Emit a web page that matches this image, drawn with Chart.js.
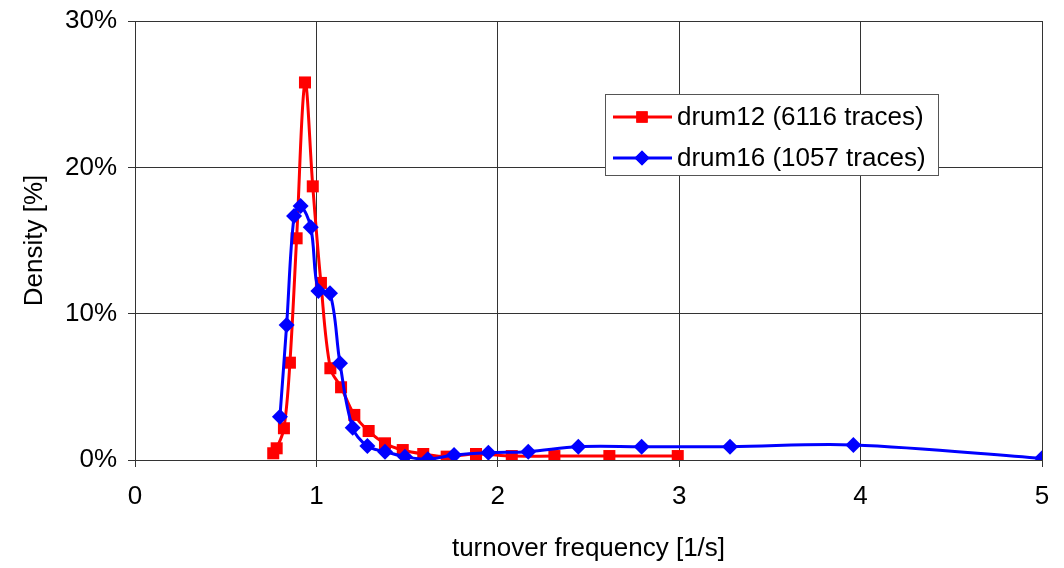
<!DOCTYPE html>
<html lang="en">
<head>
  <meta charset="UTF-8">
  <title>Turnover frequency density</title>
  <script src="https://cdn.jsdelivr.net/npm/chart.js"></script>
  <style>
    html, body { margin: 0; padding: 0; background: #fff; }
    #wrap { width: 1064px; height: 568px; }
  </style>
</head>
<body>
  <div id="wrap"><canvas id="densChart" width="1064" height="568"></canvas></div>

  <script>
    // drum12 (red squares)
    const drum12X = [0.762, 0.781, 0.821, 0.854, 0.891, 0.937, 0.980, 1.025, 1.077, 1.136, 1.209, 1.288, 1.378, 1.476, 1.589, 1.718, 1.880, 2.077, 2.312, 2.615, 2.992];
    const drum12Y = [0.46, 0.80, 2.17, 6.65, 15.15, 25.8, 18.7, 12.1, 6.27, 4.97, 3.08, 1.98, 1.14, 0.68, 0.41, 0.23, 0.41, 0.27, 0.27, 0.27, 0.27];

    // drum16 (blue diamonds)
    const drum16X = [0.799, 0.836, 0.877, 0.913, 0.969, 1.011, 1.075, 1.130, 1.200, 1.281, 1.378, 1.488, 1.614, 1.759, 1.948, 2.168, 2.444, 2.793, 3.280, 3.960, 5.00];
    const drum16Y = [2.96, 9.23, 16.68, 17.36, 15.9, 11.55, 11.39, 6.61, 2.21, 0.96, 0.57, 0.23, 0.05, 0.34, 0.50, 0.57, 0.91, 0.91, 0.91, 1.03, 0.12];

    const seriesLabels = ['drum12 (6116 traces)', 'drum16 (1057 traces)'];
    const xTicks = [0, 1, 2, 3, 4, 5];
    const yTicks = [0, 10, 20, 30];

    const FONT = "'Liberation Sans', Arial, sans-serif";
    const toPts = (xs, ys) => xs.map((x, i) => ({ x, y: ys[i] }));

    // legend box drawn inside the plot, like the spreadsheet original
    const boxLegend = {
      id: 'boxLegend',
      afterDraw(chart) {
        const ctx = chart.ctx;
        const x0 = 605, y0 = 94, w = 333, h = 81;
        ctx.save();
        ctx.fillStyle = '#fff';
        ctx.fillRect(x0, y0, w, h);
        ctx.strokeStyle = '#555';
        ctx.lineWidth = 1;
        ctx.strokeRect(x0 + 0.5, y0 + 0.5, w, h);
        ctx.font = '26px ' + FONT;
        ctx.textBaseline = 'middle';
        chart.data.datasets.forEach((ds, i) => {
          const cy = y0 + 23 + i * 41;
          ctx.strokeStyle = ds.borderColor;
          ctx.lineWidth = 3;
          ctx.beginPath();
          ctx.moveTo(x0 + 8, cy);
          ctx.lineTo(x0 + 67, cy);
          ctx.stroke();
          ctx.fillStyle = ds.backgroundColor;
          ctx.beginPath();
          Chart.helpers.drawPoint(ctx, {
            pointStyle: ds.pointStyle, radius: ds.pointRadius - 0.5, borderWidth: 0
          }, x0 + 37, cy);
          ctx.fill();
          ctx.fillStyle = '#000';
          ctx.fillText(ds.label, x0 + 72, cy + 1);
        });
        ctx.restore();
      }
    };

    new Chart(document.getElementById('densChart').getContext('2d'), {
      type: 'line',
      data: {
        datasets: [
          {
            label: seriesLabels[0], data: toPts(drum12X, drum12Y),
            borderColor: '#ff0000', backgroundColor: '#ff0000',
            borderWidth: 3, tension: 0.35,
            pointStyle: 'rect', pointRadius: 8.5, pointBorderWidth: 0,
            order: 1
          },
          {
            label: seriesLabels[1], data: toPts(drum16X, drum16Y),
            borderColor: '#0000ff', backgroundColor: '#0000ff',
            borderWidth: 3, tension: 0.35,
            pointStyle: 'rectRot', pointRadius: 8, pointBorderWidth: 0,
            order: 0
          }
        ]
      },
      options: {
        responsive: false,
        animation: false,
        layout: { padding: { top: 21, right: 22, left: 0, bottom: 0 } },
        plugins: {
          legend: { display: false },
          tooltip: { enabled: false }
        },
        scales: {
          x: {
            type: 'linear', min: 0, max: 5,
            afterBuildTicks: s => { s.ticks = xTicks.map(v => ({ value: v })); },
            afterFit: s => { s.height = 108; s.paddingLeft = 0; s.paddingRight = 0; },
            grid: { color: '#333', lineWidth: 1, tickLength: 7, drawTicks: true },
            border: { color: '#333' },
            ticks: { color: '#000', font: { family: FONT, size: 26 }, padding: 14, maxRotation: 0 },
            title: {
              display: true, text: 'turnover frequency [1/s]', color: '#000',
              font: { family: FONT, size: 26 }, padding: { top: 4, bottom: 4 }
            }
          },
          y: {
            min: 0, max: 30,
            afterBuildTicks: s => { s.ticks = yTicks.map(v => ({ value: v })); },
            afterFit: s => { s.width = 135; s.paddingTop = 0; s.paddingBottom = 0; },
            grid: { color: '#333', lineWidth: 1, tickLength: 7 },
            border: { color: '#333' },
            ticks: {
              color: '#000', font: { family: FONT, size: 26 }, padding: 11,
              callback: v => v + '%'
            },
            title: {
              display: true, text: 'Density [%]', color: '#000',
              font: { family: FONT, size: 26 }, padding: { top: 19, bottom: 19 }
            }
          }
        }
      },
      plugins: [boxLegend]
    });
  </script>
</body>
</html>
